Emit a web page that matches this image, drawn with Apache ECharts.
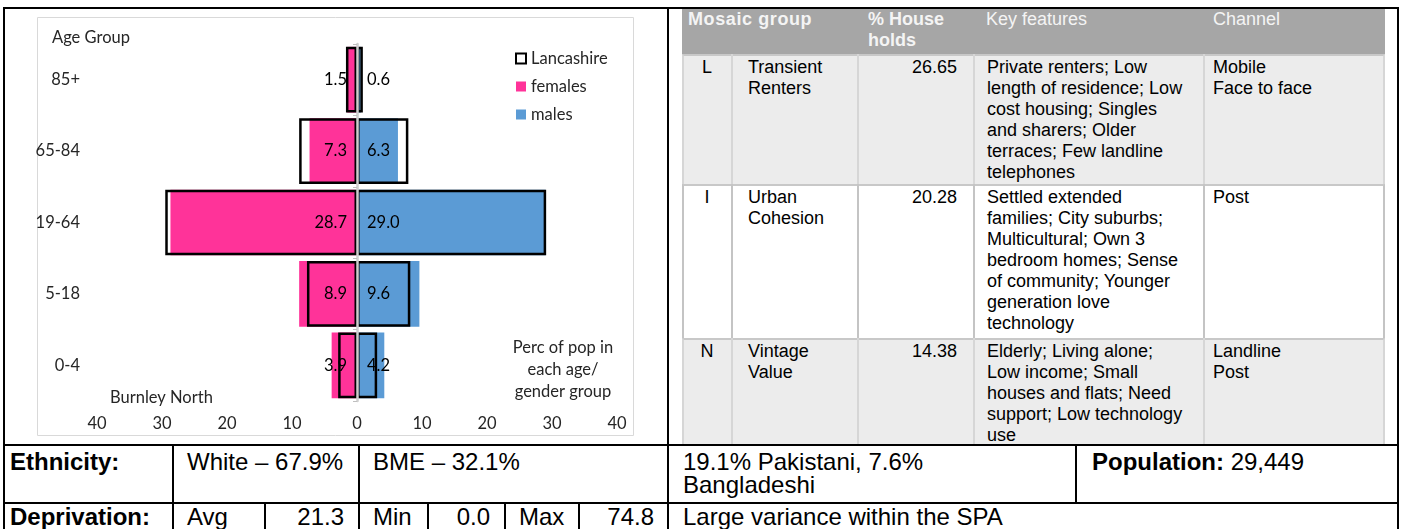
<!DOCTYPE html>
<html>
<head>
<meta charset="utf-8">
<script src="https://cdn.jsdelivr.net/npm/echarts@6/dist/echarts.min.js"></script>
<style>
html,body{margin:0;padding:0;background:#fff;}
body{width:1405px;height:529px;position:relative;overflow:hidden;font-family:"Liberation Sans",Arial,sans-serif;}
#chart{position:absolute;left:0;top:0;width:668px;height:445px;}
.d{position:absolute;box-sizing:border-box;white-space:pre;}
</style>
</head>
<body>
<div id="chart"></div>
<script>
// ---------- pyramid data ----------
const ageGroups = ['0-4', '5-18', '19-64', '65-84', '85+'];
const females = [3.9, 8.9, 28.7, 7.3, 1.5];
const males = [4.2, 9.6, 29.0, 6.3, 0.6];
const lancFemales = [2.9, 7.7, 29.5, 8.9, 1.7];
const lancMales = [3.1, 8.2, 29.1, 7.9, 0.9];
const legendNames = ['Lancashire', 'females', 'males'];
const chartTexts = ['Age Group', 'Burnley North', 'Perc of pop in\neach age/\ngender group'];

// ---------- Mosaic table data ----------
const mosaicHeader = ['Mosaic group', '% House\nholds', 'Key features', 'Channel'];
const mosaicCodes = ['L', 'I', 'N'];
const mosaicNames = ['Transient\nRenters', 'Urban\nCohesion', 'Vintage\nValue'];
const mosaicPct = ['26.65', '20.28', '14.38'];
const mosaicFeatures = [
  'Private renters; Low\nlength of residence; Low\ncost housing; Singles\nand sharers; Older\nterraces; Few landline\ntelephones',
  'Settled extended\nfamilies; City suburbs;\nMulticultural; Own 3\nbedroom homes; Sense\nof community; Younger\ngeneration love\ntechnology',
  'Elderly; Living alone;\nLow income; Small\nhouses and flats; Need\nsupport; Low technology\nuse'
];
const mosaicChannels = ['Mobile\nFace to face', 'Post', 'Landline\nPost'];

// ---------- bottom table data ----------
const ethnicityCells = ['Ethnicity:', 'White \u2013 67.9%', 'BME \u2013 32.1%', '19.1% Pakistani, 7.6%\nBangladeshi'];
const populationLabel = ['Population:', '29,449'];
const deprivationCells = ['Deprivation:', 'Avg', '21.3', 'Min', '0.0', 'Max', '74.8', 'Large variance within the SPA'];

// ---------- chart ----------
const FONT = 'Lato';
const FS = 16.5;
const TXT = '#262626';
const lancStyle = {color: 'rgba(0,0,0,0)', borderColor: '#000', borderWidth: 2.5};
const chart = echarts.init(document.getElementById('chart'), null, {renderer: 'canvas'});
chart.setOption({
  animation: false,
  grid: {left: 97, right: 51, top: 44, bottom: 44},
  legend: {
    orient: 'vertical', left: 510, top: 45, itemWidth: 10, itemHeight: 10, itemGap: 11,
    selectedMode: false,
    data: [
      {name: legendNames[0], icon: 'rect', itemStyle: {color: '#fff', borderColor: '#000', borderWidth: 2}},
      {name: legendNames[1], icon: 'rect'},
      {name: legendNames[2], icon: 'rect'}
    ],
    textStyle: {fontFamily: FONT, fontSize: FS, color: TXT}
  },
  xAxis: {
    type: 'value', min: -40, max: 40, interval: 10,
    axisLine: {show: false}, axisTick: {show: false}, splitLine: {show: false},
    axisLabel: {formatter: v => Math.abs(v), color: TXT, fontFamily: FONT, fontSize: FS, margin: 14}
  },
  yAxis: [
    {
      type: 'category', data: ageGroups, z: 5,
      axisLine: {show: true, onZero: true, lineStyle: {color: '#cfcfcf', width: 2.5}},
      axisTick: {show: true, length: 4, lineStyle: {color: '#bfbfbf'}},
      axisLabel: {show: false}
    },
    {
      type: 'category', data: ageGroups, position: 'left',
      axisLine: {show: false, onZero: false}, axisTick: {show: false},
      axisLabel: {interval: 0, color: TXT, fontFamily: FONT, fontSize: FS, margin: 17}
    }
  ],
  series: [
    {
      name: 'females', type: 'bar', stack: 'burnley', yAxisIndex: 0,
      data: females.map(v => -v), barCategoryGap: '8%', barGap: '-100%',
      itemStyle: {color: '#FF3399'},
      label: {show: true, position: 'insideRight', distance: 10, color: '#000', fontFamily: FONT, fontSize: FS,
        formatter: p => Math.abs(p.value).toFixed(1)}
    },
    {
      name: 'males', type: 'bar', stack: 'burnley', yAxisIndex: 0,
      data: males, barCategoryGap: '8%', barGap: '-100%',
      itemStyle: {color: '#5B9BD5'},
      label: {show: true, position: 'insideLeft', distance: 10, color: '#000', fontFamily: FONT, fontSize: FS,
        formatter: p => p.value.toFixed(1)}
    },
    {
      name: 'Lancashire', type: 'bar', stack: 'lanc', yAxisIndex: 0,
      data: lancFemales.map(v => -v), barCategoryGap: '8%', barGap: '-100%',
      itemStyle: lancStyle
    },
    {
      name: 'Lancashire', type: 'bar', stack: 'lanc', yAxisIndex: 0,
      data: lancMales, barCategoryGap: '8%', barGap: '-100%',
      itemStyle: lancStyle
    }
  ],
  graphic: [
    {type: 'rect', z: -10, shape: {x: 37.5, y: 17.5, width: 596, height: 418}, style: {fill: 'none', stroke: '#d9d9d9', lineWidth: 1}},
    {type: 'text', left: 52, top: 29, style: {text: chartTexts[0], fontFamily: FONT, fontSize: FS, fill: TXT}},
    {type: 'text', left: 110, top: 389, style: {text: chartTexts[1], fontFamily: FONT, fontSize: FS, fill: TXT}},
    {type: 'text', x: 563, y: 337, style: {text: chartTexts[2], fontFamily: FONT, fontSize: FS, fill: TXT, align: 'center', lineHeight: 22}}
  ]
});

// ---------- HTML tables ----------
function box(x, y, w, h, css) {
  const d = document.createElement('div');
  d.className = 'd';
  d.style.left = x + 'px'; d.style.top = y + 'px';
  d.style.width = w + 'px'; d.style.height = h + 'px';
  Object.assign(d.style, css || {});
  document.body.appendChild(d);
  return d;
}
function cell(x1, y1, x2, y2, text, css, html) {
  const d = box(x1, y1, x2 - x1, y2 - y1, css);
  if (html) d.innerHTML = text; else d.textContent = text;
  return d;
}

// Mosaic table geometry
const mx = [682, 732, 858, 974, 1204, 1385];
const my = [8, 54, 184, 338, 445];
const mosaicFont = {fontSize: '18px', lineHeight: '21px', color: '#000'};
// header
box(mx[0], my[0], mx[5] - mx[0], my[1] - my[0], {background: '#a6a6a6'});
const hdr = Object.assign({}, mosaicFont, {color: '#f4f4f4', paddingTop: '1px'});
cell(mx[0] + 6, my[0], mx[2], my[1], mosaicHeader[0], Object.assign({}, hdr, {fontWeight: 'bold', letterSpacing: '0.6px'}));
cell(mx[2] + 10, my[0], mx[3], my[1], mosaicHeader[1], Object.assign({}, hdr, {fontWeight: 'bold'}));
cell(mx[3] + 12, my[0], mx[4], my[1], mosaicHeader[2], hdr);
cell(mx[4] + 9, my[0], mx[5], my[1], mosaicHeader[3], hdr);
// rows
const rowBg = ['#ececec', '#ffffff', '#ececec'];
const rowLine = ['#d6d6d6', '#c4c4c4', '#d6d6d6'];
for (let r = 0; r < 3; r++) {
  const y1 = my[r + 1], y2 = my[r + 2];
  box(mx[0], y1, mx[5] - mx[0], y2 - y1, {background: rowBg[r], borderTop: '2px solid #c8c8c8', borderLeft: '2px solid ' + rowLine[r], borderRight: '2px solid ' + rowLine[r]});
  for (let c = 1; c < 5; c++) box(mx[c] - 1, y1, 2, y2 - y1, {background: rowLine[r]});
  const pt = Object.assign({}, mosaicFont, {paddingTop: '3px'});
  cell(mx[0], y1, mx[1], y2, mosaicCodes[r], Object.assign({}, pt, {textAlign: 'center'}));
  cell(mx[1] + 16, y1, mx[2], y2, mosaicNames[r], pt);
  cell(mx[2], y1, mx[3] - 17, y2, mosaicPct[r], Object.assign({}, pt, {textAlign: 'right'}));
  cell(mx[3] + 13, y1, mx[4], y2, mosaicFeatures[r], pt);
  cell(mx[4] + 9, y1, mx[5], y2, mosaicChannels[r], pt);
}

// bottom table
const by = [445, 503, 540];
const botFont = {fontSize: '24px', lineHeight: '23px', color: '#000'};
const eth = Object.assign({}, botFont, {paddingTop: '5px'});
const ex = [4, 173, 359, 668, 1076, 1398];
cell(ex[0] + 6, by[0], ex[1], by[1], ethnicityCells[0], Object.assign({}, eth, {fontWeight: 'bold'}));
cell(ex[1] + 14, by[0], ex[2], by[1], ethnicityCells[1], eth);
cell(ex[2] + 14, by[0], ex[3], by[1], ethnicityCells[2], eth);
cell(ex[3] + 15, by[0], ex[4], by[1], ethnicityCells[3], eth);
cell(ex[4] + 16, by[0], ex[5], by[1], '<b>' + populationLabel[0] + '</b> ' + populationLabel[1], eth, true);

const dx = [4, 173, 265, 359, 428, 505, 579, 668, 1398];
const dep = Object.assign({}, botFont, {paddingTop: '2px'});
cell(dx[0] + 6, by[1], dx[1], by[2], deprivationCells[0], Object.assign({}, dep, {fontWeight: 'bold'}));
cell(dx[1] + 14, by[1], dx[2], by[2], deprivationCells[1], dep);
cell(dx[2], by[1], dx[3] - 15, by[2], deprivationCells[2], Object.assign({}, dep, {textAlign: 'right'}));
cell(dx[3] + 14, by[1], dx[4], by[2], deprivationCells[3], dep);
cell(dx[4], by[1], dx[5] - 15, by[2], deprivationCells[4], Object.assign({}, dep, {textAlign: 'right'}));
cell(dx[5] + 14, by[1], dx[6], by[2], deprivationCells[5], dep);
cell(dx[6], by[1], dx[7] - 14, by[2], deprivationCells[6], Object.assign({}, dep, {textAlign: 'right'}));
cell(dx[7] + 15, by[1], dx[8], by[2], deprivationCells[7], dep);

// black frame lines
const K = '#000';
function hline(x1, x2, y) { box(x1, y - 1, x2 - x1, 2, {background: K}); }
function vline(x, y1, y2) { box(x - 1, y1, 2, y2 - y1, {background: K}); }
hline(3, 1399, 8);
hline(3, 1399, 445);
hline(3, 1399, 503);
vline(4, 7, 529);
vline(1398, 7, 529);
vline(668, 7, 529);
[173, 359, 1076].forEach(x => vline(x, 445, 503));
[173, 265, 359, 428, 505, 579].forEach(x => vline(x, 503, 529));
</script>
</body>
</html>
